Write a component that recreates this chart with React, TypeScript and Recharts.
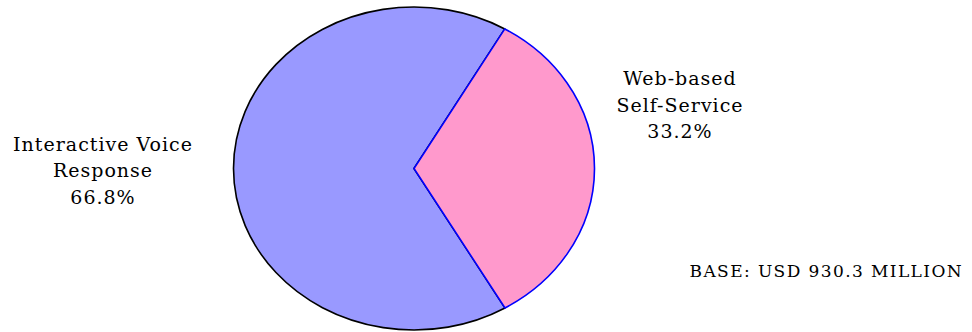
import React from 'react';
import { PieChart, Pie, Cell } from 'recharts';

const categories = ['Interactive Voice Response', 'Web-based Self-Service'];
const labelLines = [['Interactive Voice', 'Response'], ['Web-based', 'Self-Service']];
const shares = [66.8, 33.2];
const baseNote = 'BASE: USD 930.3 MILLION';

const fills = ['#9999FF', '#FF99CC'];
const strokes = ['#000000', '#0000FF'];

const data = categories.map((name, i) => ({ name, value: shares[i] }));

const FONT = '"DejaVu Serif", serif';
const X_STRETCH = 180.5 / 161.5;

// pie is drawn as an ellipse: recharts gives the angles, we stretch x
const EllipseSector = (props: any) => {
  const { cx, cy, outerRadius, startAngle, endAngle, fill, stroke } = props;
  const rx = outerRadius * X_STRETCH;
  const ry = outerRadius;
  const rad = Math.PI / 180;
  const p = (a: number) => [cx + rx * Math.cos(a * rad), cy - ry * Math.sin(a * rad)];
  const [x1, y1] = p(startAngle);
  const [x2, y2] = p(endAngle);
  const large = Math.abs(endAngle - startAngle) > 180 ? 1 : 0;
  const sweep = endAngle > startAngle ? 0 : 1;
  const d = `M${cx},${cy} L${x1},${y1} A${rx},${ry} 0 ${large} ${sweep} ${x2},${y2} Z`;
  return <path d={d} fill={fill} stroke={stroke} strokeWidth={1.6} strokeLinejoin="round" />;
};

const labelPos = [
  { x: 103, y: 150.5 },
  { x: 680, y: 85 },
];

const renderLabel = (props: any) => {
  const { index, value } = props;
  const pos = labelPos[index];
  const lines = [...labelLines[index], `${Number(value).toFixed(1)}%`];
  return (
    <text
      x={pos.x}
      y={pos.y}
      textAnchor="middle"
      fontFamily={FONT}
      fontSize={19}
      letterSpacing={1}
      fill="#000"
    >
      {lines.map((l, i) => (
        <tspan key={i} x={pos.x} dy={i === 0 ? 0 : 26.5}>
          {l}
        </tspan>
      ))}
    </text>
  );
};

export default function App() {
  return (
    <div style={{ position: 'absolute', left: 0, top: 0, width: 972, height: 332, background: '#fff' }}>
      <PieChart width={972} height={332} margin={{ top: 0, right: 0, bottom: 0, left: 0 }}>
        <Pie
          data={data}
          dataKey="value"
          nameKey="name"
          cx={414}
          cy={168.5}
          outerRadius={161.5}
          startAngle={59.8}
          endAngle={419.8}
          shape={EllipseSector}
          label={renderLabel}
          labelLine={false}
          isAnimationActive={false}
        >
          {data.map((entry, i) => (
            <Cell key={entry.name} fill={fills[i]} stroke={strokes[i]} />
          ))}
        </Pie>
      </PieChart>
      <div
        style={{
          position: 'absolute',
          right: 9,
          top: 261,
          fontFamily: FONT,
          fontSize: 17,
          letterSpacing: 1.4,
          color: '#000',
          whiteSpace: 'nowrap',
        }}
      >
        {baseNote}
      </div>
    </div>
  );
}
